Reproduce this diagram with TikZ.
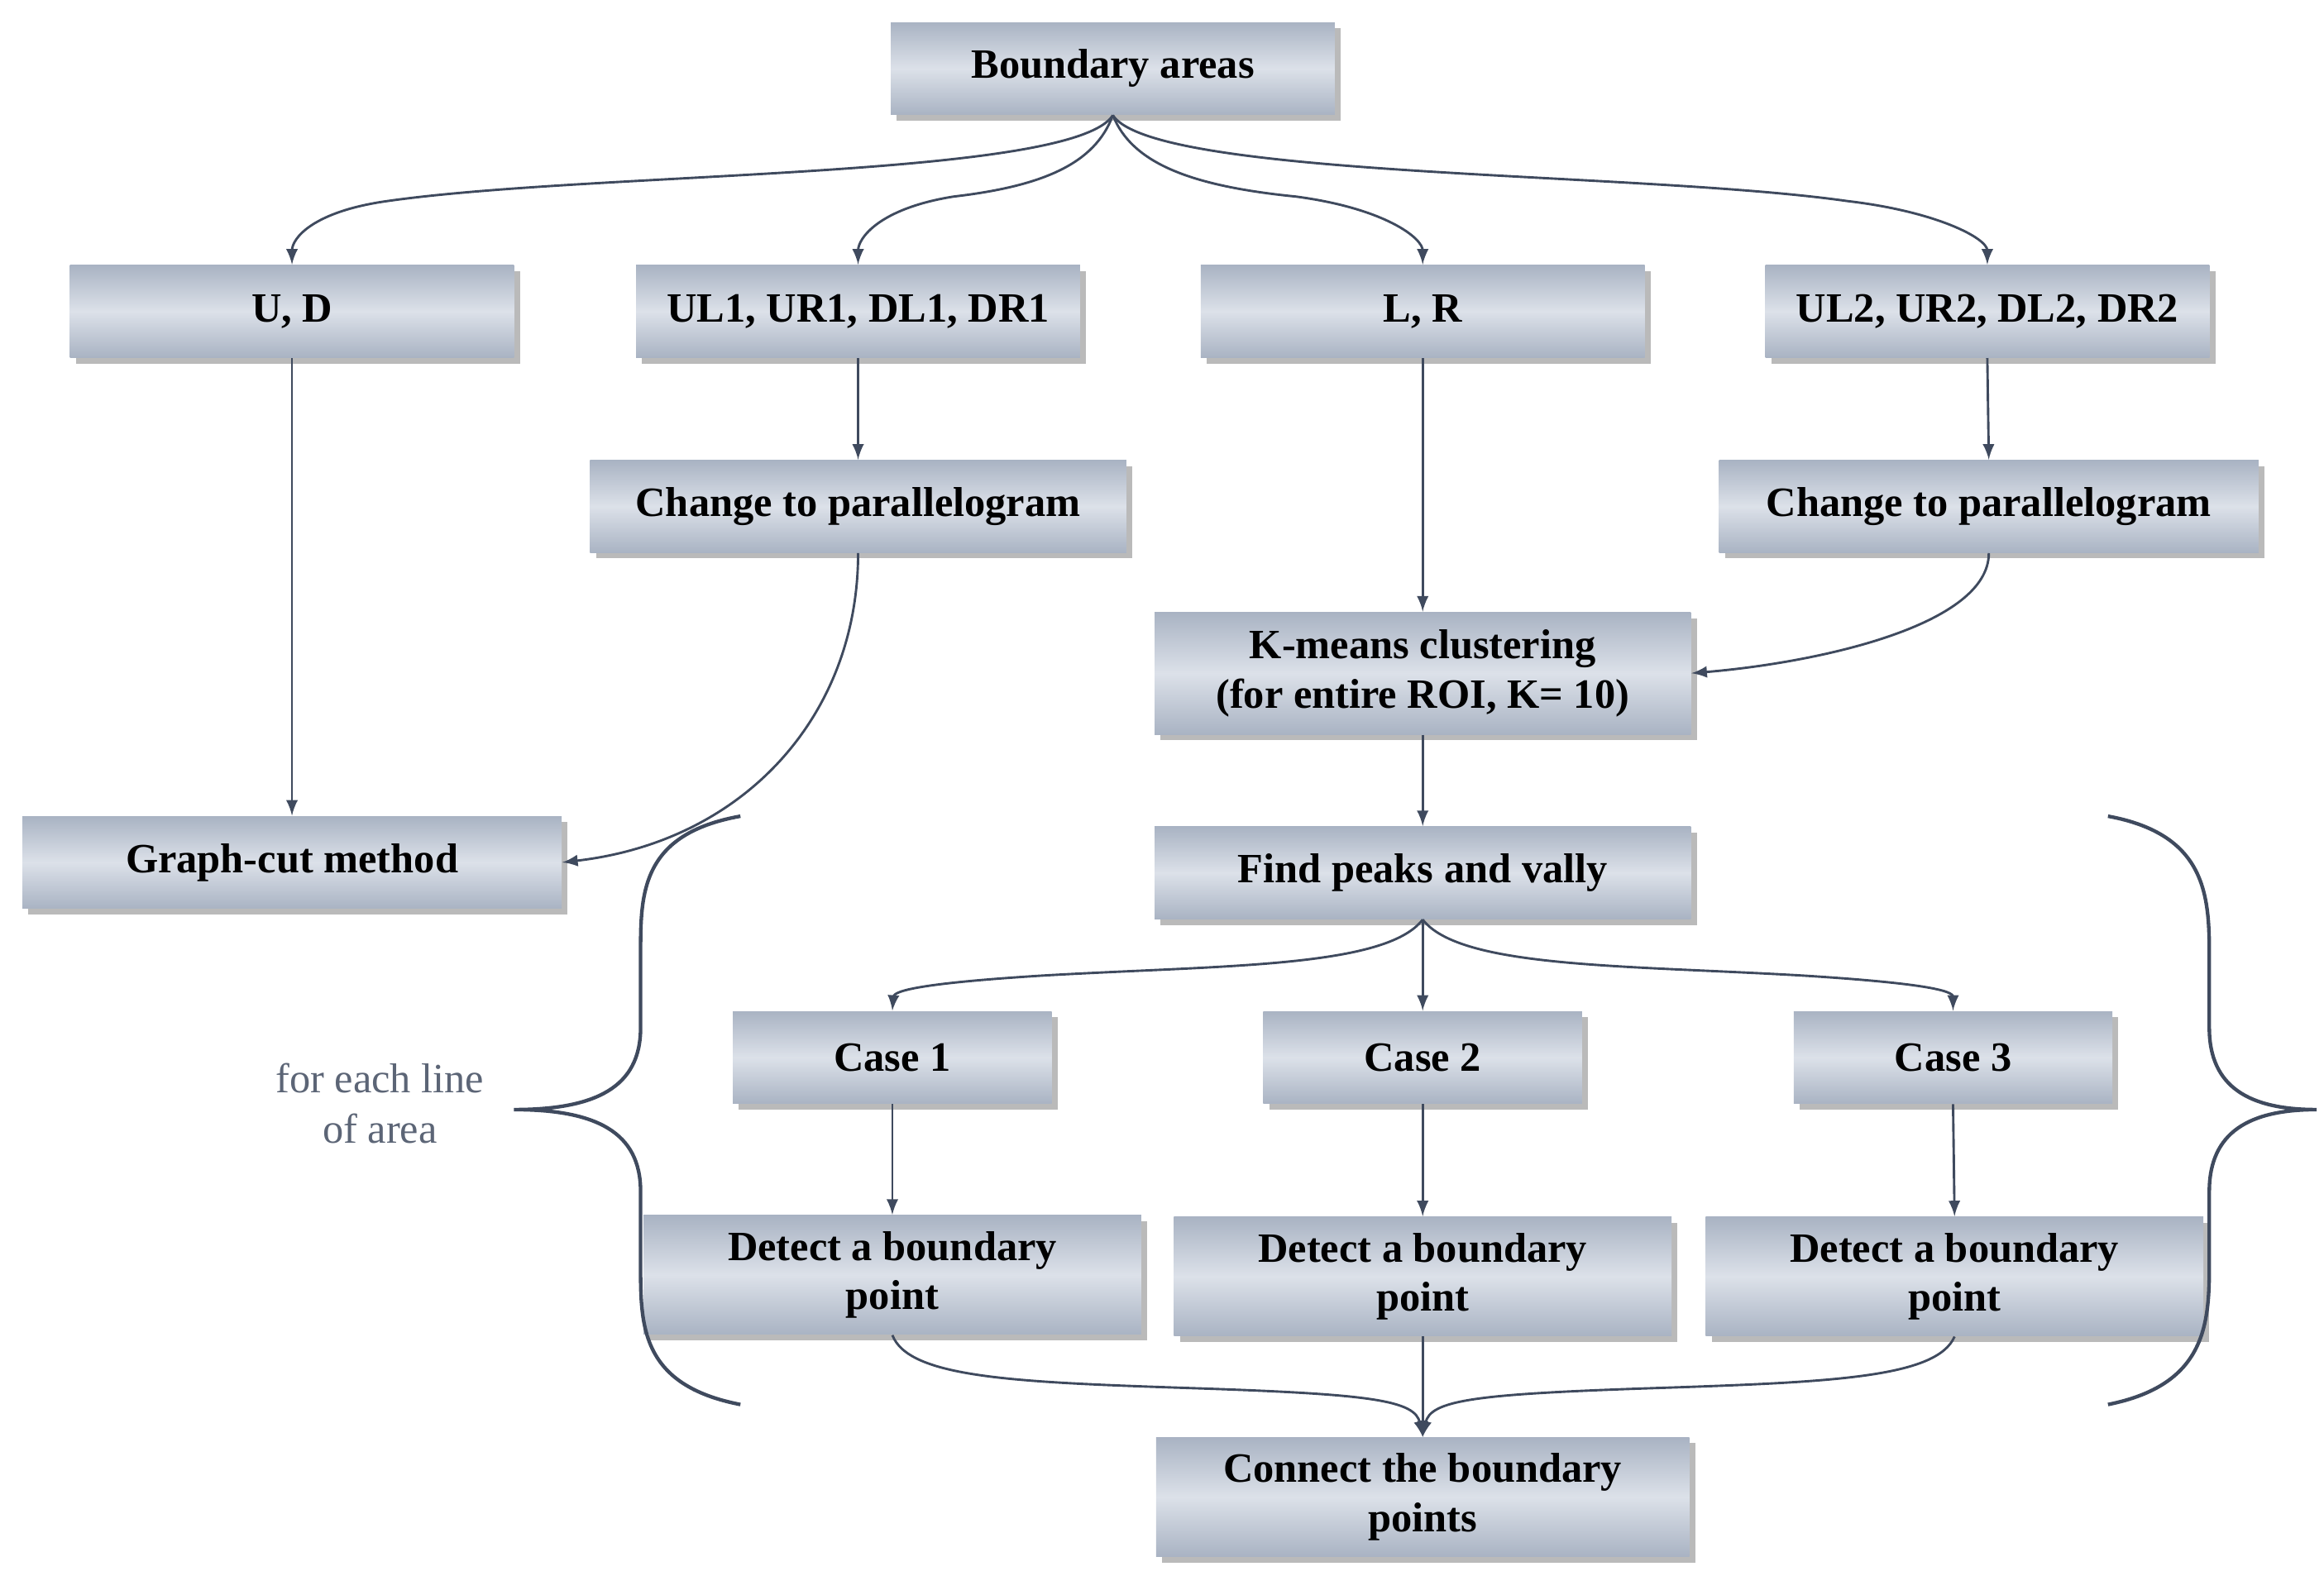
\documentclass[tikz,border=0pt]{standalone}
\usepackage{fontspec}
\setmainfont{Liberation Serif}
\usetikzlibrary{shadows}
\definecolor{ln}{HTML}{3F4A5E}
\definecolor{bxa}{HTML}{A9B3C3}
\definecolor{bxb}{HTML}{DCE1E9}
\begin{document}
\begin{tikzpicture}[x=0.5pt,y=-0.5pt,
 box/.style={rectangle,inner sep=2pt,align=center,font=\fontsize{14}{16.5}\selectfont\bfseries,
   top color=bxa,bottom color=bxa,middle color=bxb,shading angle=0,
   drop shadow={shadow xshift=2pt,shadow yshift=-2pt,fill=black!45,opacity=0.6}},
 ar/.style={draw=ln,line width=0.8pt,-latex}]
\useasboundingbox (0,0) rectangle (1560,1058);
\node[box,minimum width=149pt,minimum height=31pt] (ba) at (747,46) {Boundary areas};
\node[box,minimum width=149pt,minimum height=31pt] (ud) at (196,209) {U, D};
\node[box,minimum width=149pt,minimum height=31pt] (ul1) at (576,209) {UL1, UR1, DL1, DR1};
\node[box,minimum width=149pt,minimum height=31pt] (lr) at (955,209) {L, R};
\node[box,minimum width=149pt,minimum height=31pt] (ul2) at (1334,209) {UL2, UR2, DL2, DR2};
\node[box,minimum width=180pt,minimum height=31pt] (cp1) at (576,340) {Change to parallelogram};
\node[box,minimum width=181pt,minimum height=31pt] (cp2) at (1335,340) {Change to parallelogram};
\node[box,minimum width=180pt,minimum height=41pt] (km) at (955,452) {K-means clustering\\(for entire ROI, K= 10)};
\node[box,minimum width=181pt,minimum height=31pt] (gc) at (196,579) {Graph-cut method};
\node[box,minimum width=180pt,minimum height=31pt] (fp) at (955,586) {Find peaks and vally};
\node[box,minimum width=107pt,minimum height=31pt] (c1) at (599,710) {Case 1};
\node[box,minimum width=107pt,minimum height=31pt] (c2) at (955,710) {Case 2};
\node[box,minimum width=107pt,minimum height=31pt] (c3) at (1311,710) {Case 3};
\node[box,minimum width=167pt,minimum height=40pt] (d1) at (599,856) {Detect a boundary\\point};
\node[box,minimum width=167pt,minimum height=40pt] (d2) at (955,857) {Detect a boundary\\point};
\node[box,minimum width=167pt,minimum height=40pt] (d3) at (1312,857) {Detect a boundary\\point};
\node[box,minimum width=179pt,minimum height=40pt] (cn) at (955,1005) {Connect the boundary\\points};
\node[align=center,text=ln!85,font=\fontsize{14}{17}\selectfont] (fe) at (255,741) {for each line\\of area};
% top fan
\draw[ar] (ba.south) .. controls (720,120) and (400,115) .. (260,135) .. controls (210,142) and (196,160) .. (ud.north);
\draw[ar] (ba.south) .. controls (735,110) and (700,125) .. (640,132) .. controls (590,140) and (576,160) .. (ul1.north);
\draw[ar] (ba.south) .. controls (760,110) and (800,125) .. (870,132) .. controls (930,140) and (955,160) .. (lr.north);
\draw[ar] (ba.south) .. controls (775,120) and (1100,115) .. (1240,135) .. controls (1300,142) and (1334,160) .. (ul2.north);
\draw[ar] (ud.south) -- (gc.north);
\draw[ar] (ul1.south) -- (cp1.north);
\draw[ar] (ul2.south) -- (cp2.north);
\draw[ar] (lr.south) -- (km.north);
\draw[ar] (cp1.south) .. controls (576,480) and (500,565) .. (gc.east);
\draw[ar] (cp2.south) .. controls (1335,420) and (1220,445) .. (km.east);
\draw[ar] (km.south) -- (fp.north);
\draw[ar] (fp.south) -- (c2.north);
\draw[ar] (fp.south) .. controls (930,650) and (820,648) .. (700,655) .. controls (620,660) and (600,665) .. (c1.north);
\draw[ar] (fp.south) .. controls (980,650) and (1090,648) .. (1210,655) .. controls (1290,660) and (1311,665) .. (c3.north);
\draw[ar] (c1.south) -- (d1.north);
\draw[ar] (c2.south) -- (d2.north);
\draw[ar] (c3.south) -- (d3.north);
\draw[ar] (d2.south) -- (cn.north);
\draw[ar] (d1.south) .. controls (610,925) and (680,928) .. (800,932) .. controls (920,936) and (950,940) .. (cn.north);
\draw[ar] (d3.south) .. controls (1300,925) and (1230,928) .. (1110,932) .. controls (990,936) and (960,940) .. (cn.north);
% braces
\coordinate (lb1) at (497,548); \coordinate (lb2) at (497,943); \coordinate (lbt) at (345,745);
\draw[ln,line width=1.2pt] (lb1) .. controls (430,560) and (430,600) .. (430,640) -- (430,690) .. controls (430,730) and (400,745) .. (lbt)
 .. controls (400,745) and (430,760) .. (430,800) -- (430,850) .. controls (430,890) and (430,930) .. (lb2);
\coordinate (rb1) at (1415,548); \coordinate (rb2) at (1415,943); \coordinate (rbt) at (1555,745);
\draw[ln,line width=1.2pt] (rb1) .. controls (1480,560) and (1483,600) .. (1483,640) -- (1483,690) .. controls (1483,730) and (1510,745) .. (rbt)
 .. controls (1510,745) and (1483,760) .. (1483,800) -- (1483,850) .. controls (1483,890) and (1480,930) .. (rb2);
\end{tikzpicture}
\end{document}
